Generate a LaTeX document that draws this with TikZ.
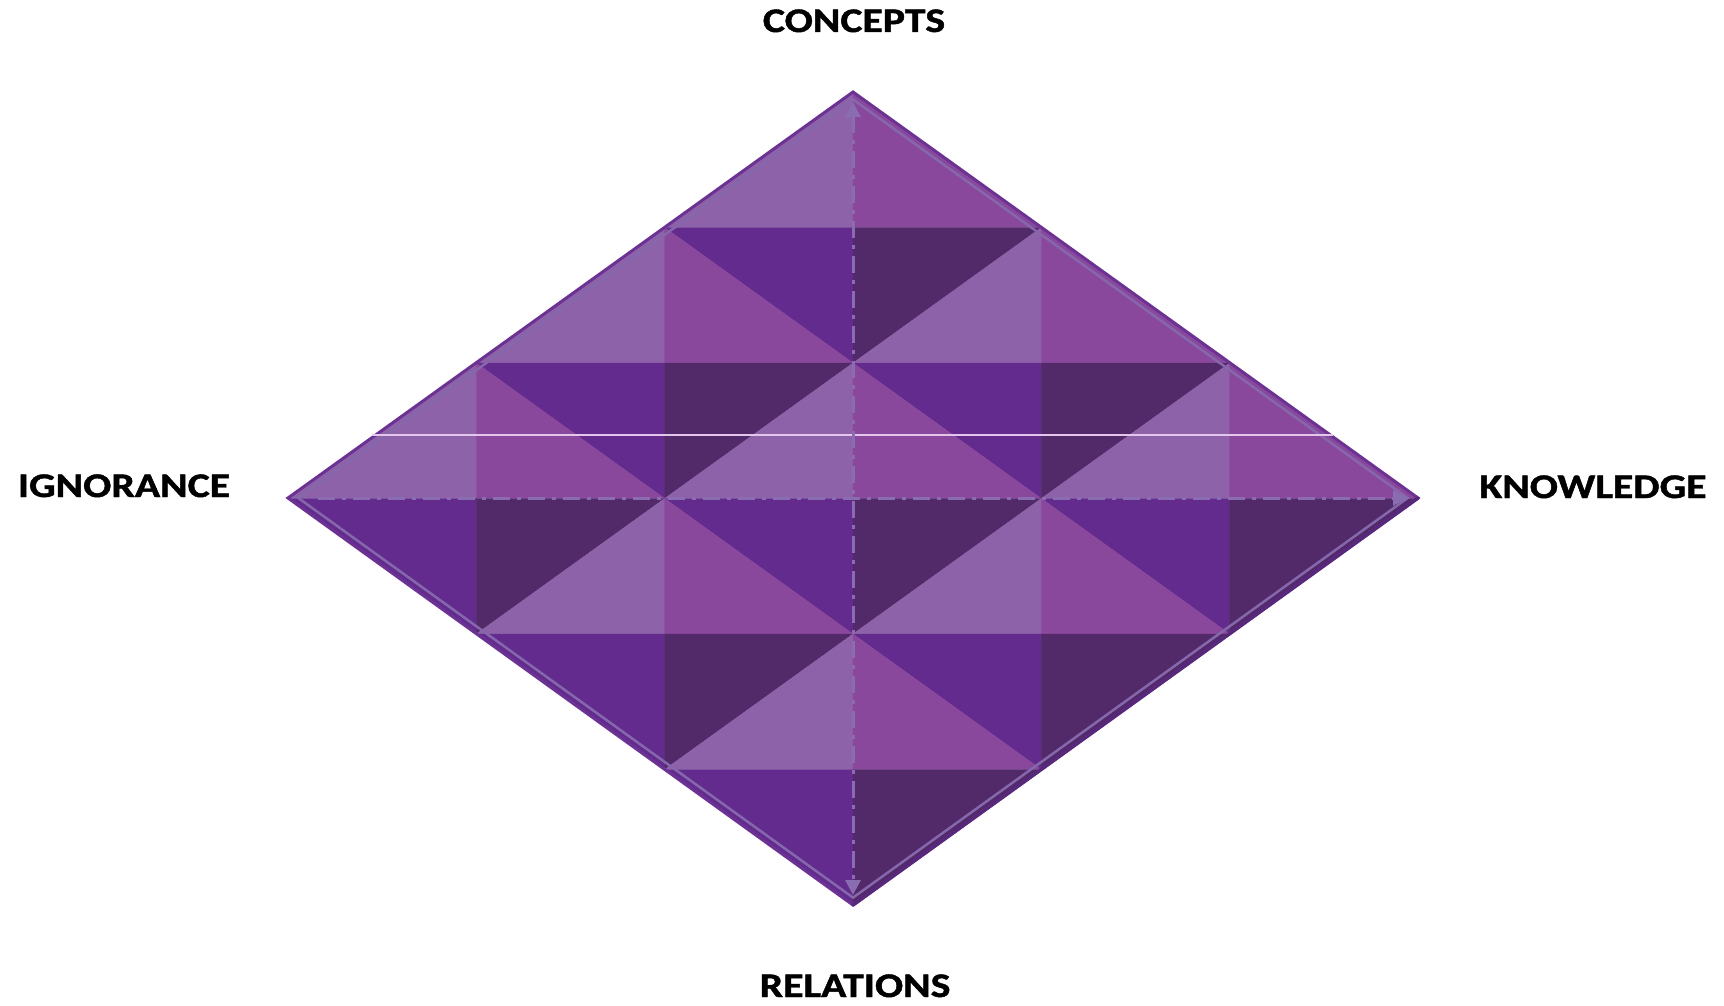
\documentclass[tikz,border=0pt]{standalone}
\usepackage{fontspec}
\setmainfont{Carlito}[BoldFeatures={FakeBold=1.2}]
\usepackage{graphicx}
\usetikzlibrary{arrows.meta}
\definecolor{cTL}{HTML}{8E62A8}
\definecolor{cTR}{HTML}{8A489D}
\definecolor{cBL}{HTML}{632B8E}
\definecolor{cBR}{HTML}{522A69}
\definecolor{edgeOut}{HTML}{6C3194}
\definecolor{edgeShadow}{HTML}{58287E}
\definecolor{edgeIn}{HTML}{8567AC}
\definecolor{axiscol}{HTML}{8A6CB0}
\definecolor{glint}{HTML}{E4C6EC}
\newcommand\lbltxt[1]{\scalebox{1.21}[1]{#1}}
\begin{document}
\begin{tikzpicture}[x=1pt,y=-1pt,
  lbl/.style={font=\bfseries\fontsize{34.5}{40}\selectfont, anchor=base, inner sep=0pt, text=black},
  axisline/.style={draw=axiscol, line width=3pt, dash pattern=on 17pt off 7pt on 4pt off 7pt},
  tri/.style={fill=#1, draw=#1, line width=0.4pt, line join=round}]
\useasboundingbox (0,0) rectangle (1724,1006);
% diamond corners
\coordinate (T) at (853,92);
\coordinate (R) at (1418,498);
\coordinate (B) at (853,905);
\coordinate (L) at (288,498);
% triangle tiling
\foreach \i in {0,1,2}{
  \foreach \j in {0,1,2}{
    \pgfmathsetmacro\tx{853+188.333*(\i-\j)}
    \pgfmathsetmacro\ty{92+135.5*(\i+\j)}
    \fill[tri=cTL] ({\tx},{\ty}) -- ({\tx},{\ty+135.5}) -- ({\tx-188.333},{\ty+135.5}) -- cycle;
    \fill[tri=cTR] ({\tx},{\ty}) -- ({\tx},{\ty+135.5}) -- ({\tx+188.333},{\ty+135.5}) -- cycle;
    \fill[tri=cBL] ({\tx-188.333},{\ty+135.5}) -- ({\tx},{\ty+135.5}) -- ({\tx},{\ty+271}) -- cycle;
    \fill[tri=cBR] ({\tx+188.333},{\ty+135.5}) -- ({\tx},{\ty+135.5}) -- ({\tx},{\ty+271}) -- cycle;
  }
}
% outline
\draw[edgeOut, line width=3pt, line join=miter] (T) -- (R) -- (B) -- (L) -- cycle;
\draw[edgeShadow, line width=3.5pt, line cap=round] (R) -- (B);
\coordinate (Ti) at (853,99.4);
\coordinate (Ri) at (1407.7,498);
\coordinate (Bi) at (853,897.6);
\coordinate (Li) at (298.3,498);
\draw[edgeIn, line width=2.5pt, line join=miter] (Ti) -- (Ri) -- (Bi) -- (Li) -- cycle;
% glint line
\coordinate (g1) at (372,435);
\coordinate (g2) at (1333,435);
\draw[glint, line width=1.2pt] (g1) -- (g2);
% axes
\coordinate (hs) at (318,498);
\coordinate (he) at (1408,498);
\draw[axisline, -{Triangle[length=15pt,width=15pt]}] (hs) -- (he);
\coordinate (vs) at (853,102);
\coordinate (ve) at (853,895);
\draw[axisline, {Triangle[length=15pt,width=15pt]}-{Triangle[length=15pt,width=15pt]}] (vs) -- (ve);
% labels
\node[lbl] (concepts) at (854,32) {\lbltxt{CONCEPTS}};
\node[lbl] (ignorance) at (124,497) {\lbltxt{IGNORANCE}};
\node[lbl] (knowledge) at (1593,498) {\lbltxt{KNOWLEDGE}};
\node[lbl] (relations) at (855,997) {\lbltxt{RELATIONS}};
\end{tikzpicture}
\end{document}
